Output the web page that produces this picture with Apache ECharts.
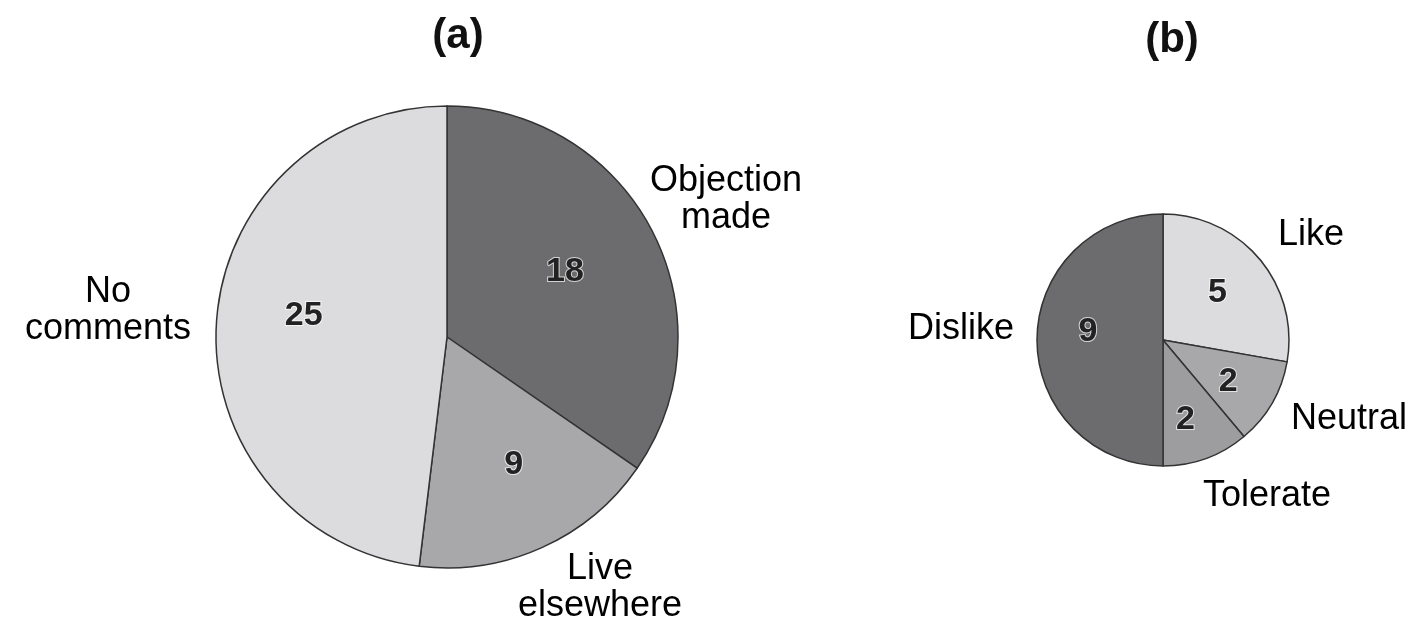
<!DOCTYPE html>
<html>
<head>
<meta charset="utf-8">
<script src="https://cdn.jsdelivr.net/npm/echarts@6/dist/echarts.min.js"></script>
<style>
  html, body { margin: 0; padding: 0; background: #fff; }
  #chart { width: 1417px; height: 624px; }
</style>
</head>
<body>
<div id="chart"></div>
<script>
// pie (a): clockwise from 12 o'clock
const namesA = ['Objection\nmade', 'Live\nelsewhere', 'No\ncomments'];
const valuesA = [18, 9, 25];
const colorsA = ['#6c6c6e', '#a8a8aa', '#dcdcde'];

// pie (b)
const namesB = ['Like', 'Neutral', 'Tolerate', 'Dislike'];
const valuesB = [5, 2, 2, 9];
const colorsB = ['#dcdcde', '#a8a8aa', '#9d9d9f', '#6c6c6e'];

// where the outer name labels sit (px), and nudges for the numbers
const labelPosA = [[726, 200], [600, 588], [108, 311]];
const labelPosB = [[1311, 235], [1349, 419], [1267, 496], [961, 329]];
const numNudgeA = [[13, -10], [18, 20], [-25, -14]];
const numNudgeB = [[4, -5], [8, 9], [0, 18], [-9, -8]];

const FONT = '"Liberation Sans", Arial, sans-serif';

function toData(names, values, colors) {
  return names.map((n, i) => ({ name: n, value: values[i], itemStyle: { color: colors[i] } }));
}

function innerPie(center, radius, data, nudge) {
  return {
    type: 'pie',
    center: center,
    radius: radius,
    startAngle: 90,
    clockwise: true,
    silent: true,
    data: data,
    itemStyle: { borderColor: '#333', borderWidth: 1.5 },
    label: {
      show: true,
      position: 'inside',
      formatter: '{c}',
      fontFamily: FONT,
      fontWeight: 'bold',
      fontSize: 34,
      color: '#222',
      textBorderColor: 'rgba(255,255,255,0.7)',
      textBorderWidth: 2
    },
    labelLine: { show: false },
    labelLayout: function (p) {
      const d = nudge[p.dataIndex];
      return { dx: d[0], dy: d[1] };
    },
    emphasis: { disabled: true }
  };
}

function namePie(center, radius, data, pos) {
  return {
    type: 'pie',
    center: center,
    radius: radius,
    startAngle: 90,
    silent: true,
    z: 1,
    data: data.map(d => ({ name: d.name, value: d.value, itemStyle: { color: 'rgba(0,0,0,0)' } })),
    label: {
      show: true,
      position: 'outside',
      formatter: '{b}',
      fontFamily: FONT,
      fontSize: 36,
      lineHeight: 37,
      align: 'center',
      overflow: 'none',
      color: '#000'
    },
    labelLine: { show: false },
    labelLayout: function (p) {
      const xy = pos[p.dataIndex];
      return { x: xy[0], y: xy[1], align: 'center', verticalAlign: 'middle' };
    },
    emphasis: { disabled: true }
  };
}

const dataA = toData(namesA, valuesA, colorsA);
const dataB = toData(namesB, valuesB, colorsB);

const chart = echarts.init(document.getElementById('chart'));
chart.setOption({
  animation: false,
  backgroundColor: '#fff',
  title: [
    { text: '(a)', left: 453, top: 10, textAlign: 'center',
      textStyle: { fontFamily: FONT, fontWeight: 'bold', fontSize: 42, color: '#111' } },
    { text: '(b)', left: 1167, top: 14, textAlign: 'center',
      textStyle: { fontFamily: FONT, fontWeight: 'bold', fontSize: 42, color: '#111' } }
  ],
  series: [
    innerPie([447, 337], 231, dataA, numNudgeA),
    namePie([447, 337], 231, dataA, labelPosA),
    innerPie([1163, 340], 126, dataB, numNudgeB),
    namePie([1163, 340], 126, dataB, labelPosB)
  ]
});
</script>
</body>
</html>
